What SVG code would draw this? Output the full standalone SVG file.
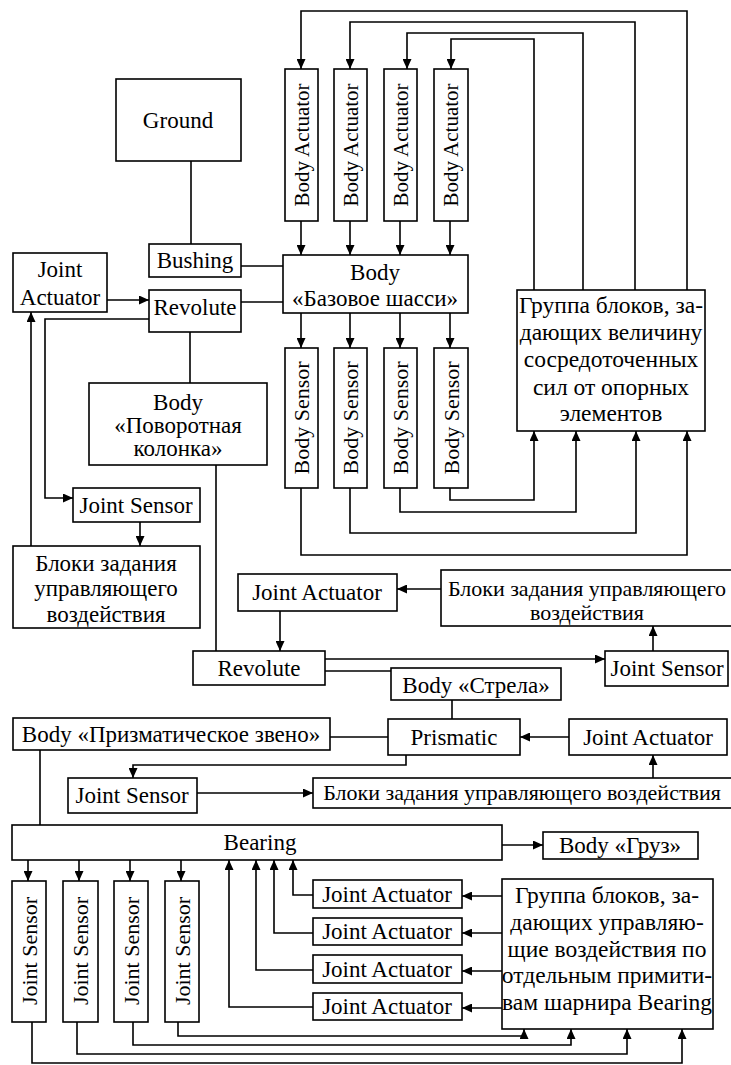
<svg xmlns="http://www.w3.org/2000/svg" width="731" height="1065" viewBox="0 0 731 1065">
<style>
.n{fill:#fff;stroke:#000;stroke-width:1.6}
.t{font-family:"Liberation Serif","Times New Roman",serif;font-size:23px;fill:#000;text-anchor:middle}
.g{font-size:23.5px}
.ra{font-size:21px}
.rs{font-size:22px}
.w{font-size:22px}
.c{fill:none;stroke:#000;stroke-width:1.6}
</style>
<defs>
<marker id="a" markerUnits="userSpaceOnUse" markerWidth="10" markerHeight="9" refX="10" refY="4.5" orient="auto"><path d="M0,0 L10,4.5 L0,9 z" fill="#000"/></marker>
</defs>
<rect width="731" height="1065" fill="#fff"/>
<g id="connectors">
<path class="c" d="M191,161 V244"/>
<path class="c" d="M241,266 H283"/>
<path class="c" d="M241,302 H283"/>
<path class="c" d="M107,300 H149" marker-end="url(#a)"/>
<path class="c" d="M149,319 H45 V498 H73" marker-end="url(#a)"/>
<path class="c" d="M190,332 V383"/>
<path class="c" d="M140,522 V546" marker-end="url(#a)"/>
<path class="c" d="M31,546 V312" marker-end="url(#a)"/>
<path class="c" d="M216,465 V651"/>
<path class="c" d="M687,290 V11 H301 V69" marker-end="url(#a)"/>
<path class="c" d="M635,290 V22 H350 V69" marker-end="url(#a)"/>
<path class="c" d="M583,290 V33 H407 V69" marker-end="url(#a)"/>
<path class="c" d="M534,290 V39 H451 V69" marker-end="url(#a)"/>
<path class="c" d="M301,221 V255" marker-end="url(#a)"/>
<path class="c" d="M350,221 V255" marker-end="url(#a)"/>
<path class="c" d="M400,221 V255" marker-end="url(#a)"/>
<path class="c" d="M450,221 V255" marker-end="url(#a)"/>
<path class="c" d="M301,313 V348" marker-end="url(#a)"/>
<path class="c" d="M350,313 V348" marker-end="url(#a)"/>
<path class="c" d="M400,313 V348" marker-end="url(#a)"/>
<path class="c" d="M450,313 V348" marker-end="url(#a)"/>
<path class="c" d="M450,488 V500 H534 V431" marker-end="url(#a)"/>
<path class="c" d="M400,488 V512 H576 V431" marker-end="url(#a)"/>
<path class="c" d="M350,488 V533 H636 V431" marker-end="url(#a)"/>
<path class="c" d="M301,488 V555 H687 V431" marker-end="url(#a)"/>
<path class="c" d="M441,589 H397" marker-end="url(#a)"/>
<path class="c" d="M280,611 V651" marker-end="url(#a)"/>
<path class="c" d="M325,659 H605" marker-end="url(#a)"/>
<path class="c" d="M325,671 H391"/>
<path class="c" d="M653,651 V626" marker-end="url(#a)"/>
<path class="c" d="M452,700 V719"/>
<path class="c" d="M569,737 H520" marker-end="url(#a)"/>
<path class="c" d="M388,737 H330"/>
<path class="c" d="M406,755 V765 H133 V778" marker-end="url(#a)"/>
<path class="c" d="M197,793 H313" marker-end="url(#a)"/>
<path class="c" d="M653,778 V755" marker-end="url(#a)"/>
<path class="c" d="M40,750 V825"/>
<path class="c" d="M502,845 H543" marker-end="url(#a)"/>
<path class="c" d="M28,860 V881" marker-end="url(#a)"/>
<path class="c" d="M79,860 V881" marker-end="url(#a)"/>
<path class="c" d="M130,860 V881" marker-end="url(#a)"/>
<path class="c" d="M181,860 V881" marker-end="url(#a)"/>
<path class="c" d="M502,896 H462" marker-end="url(#a)"/>
<path class="c" d="M502,933 H462" marker-end="url(#a)"/>
<path class="c" d="M502,971 H462" marker-end="url(#a)"/>
<path class="c" d="M502,1008 H462" marker-end="url(#a)"/>
<path class="c" d="M313,895 H293 V860" marker-end="url(#a)"/>
<path class="c" d="M313,933 H274 V860" marker-end="url(#a)"/>
<path class="c" d="M313,970 H256 V860" marker-end="url(#a)"/>
<path class="c" d="M313,1007 H229 V860" marker-end="url(#a)"/>
<path class="c" d="M178,1022 V1036 H524 V1029" marker-end="url(#a)"/>
<path class="c" d="M133,1022 V1045 H571 V1029" marker-end="url(#a)"/>
<path class="c" d="M77,1022 V1054 H627 V1029" marker-end="url(#a)"/>
<path class="c" d="M32,1022 V1063 H682 V1029" marker-end="url(#a)"/>
</g>
<g id="ground"><rect class="n" x="116" y="79" width="125" height="82"/><text class="t" x="178" y="128">Ground</text></g>
<g id="bushing"><rect class="n" x="149" y="244" width="92" height="33"/><text class="t" x="195" y="268">Bushing</text></g>
<g id="joint-actuator-1"><rect class="n" x="13" y="253" width="94" height="59"/><text class="t" x="60" y="277">Joint</text><text class="t" x="60" y="305">Actuator</text></g>
<g id="revolute-1"><rect class="n" x="149" y="290" width="92" height="42"/><text class="t" x="195" y="315">Revolute</text></g>
<g id="body-base"><rect class="n" x="283" y="255" width="185" height="58"/><text class="t" x="375" y="280">Body</text><text class="t" x="375" y="306">«Базовое шасси»</text></g>
<g id="body-actuator-1"><rect class="n" x="285" y="69" width="33" height="152"/><text class="t ra" transform="translate(301.5,145) rotate(-90)" y="7">Body Actuator</text></g>
<g id="body-actuator-2"><rect class="n" x="334" y="69" width="33" height="152"/><text class="t ra" transform="translate(350.5,145) rotate(-90)" y="7">Body Actuator</text></g>
<g id="body-actuator-3"><rect class="n" x="384" y="69" width="33" height="152"/><text class="t ra" transform="translate(400.5,145) rotate(-90)" y="7">Body Actuator</text></g>
<g id="body-actuator-4"><rect class="n" x="434" y="69" width="34" height="152"/><text class="t ra" transform="translate(451,145) rotate(-90)" y="7">Body Actuator</text></g>
<g id="body-sensor-1"><rect class="n" x="285" y="348" width="33" height="140"/><text class="t rs" transform="translate(301.5,418) rotate(-90)" y="7.5">Body Sensor</text></g>
<g id="body-sensor-2"><rect class="n" x="334" y="348" width="33" height="140"/><text class="t rs" transform="translate(350.5,418) rotate(-90)" y="7.5">Body Sensor</text></g>
<g id="body-sensor-3"><rect class="n" x="384" y="348" width="33" height="140"/><text class="t rs" transform="translate(400.5,418) rotate(-90)" y="7.5">Body Sensor</text></g>
<g id="body-sensor-4"><rect class="n" x="434" y="348" width="34" height="140"/><text class="t rs" transform="translate(451,418) rotate(-90)" y="7.5">Body Sensor</text></g>
<g id="group-forces"><rect class="n" x="517" y="290" width="188" height="141"/><text class="t g" x="611" y="313">Группа блоков, за-</text><text class="t g" x="611" y="340">дающих величину</text><text class="t g" x="611" y="367">сосредоточенных</text><text class="t g" x="611" y="395">сил от опорных</text><text class="t g" x="611" y="421">элементов</text></g>
<g id="body-column"><rect class="n" x="89" y="383" width="178" height="82"/><text class="t" x="178" y="410">Body</text><text class="t" x="178" y="433">«Поворотная</text><text class="t" x="178" y="456">колонка»</text></g>
<g id="joint-sensor-1"><rect class="n" x="73" y="488" width="127" height="34"/><text class="t" x="136" y="513">Joint Sensor</text></g>
<g id="control-1"><rect class="n" x="13" y="546" width="187" height="82"/><text class="t" x="106" y="571">Блоки задания</text><text class="t" x="106" y="596">управляющего</text><text class="t" x="106" y="622">воздействия</text></g>
<g id="joint-actuator-2"><rect class="n" x="238" y="574" width="159" height="37"/><text class="t" x="317" y="600">Joint Actuator</text></g>
<g id="control-2"><rect class="n" x="441" y="570" width="300" height="56"/><text class="t w" x="587" y="596">Блоки задания управляющего</text><text class="t w" x="587" y="620">воздействия</text></g>
<g id="revolute-2"><rect class="n" x="193" y="651" width="132" height="34"/><text class="t" x="259" y="676">Revolute</text></g>
<g id="joint-sensor-2"><rect class="n" x="605" y="651" width="123" height="35"/><text class="t" x="667" y="676">Joint Sensor</text></g>
<g id="body-boom"><rect class="n" x="391" y="668" width="170" height="32"/><text class="t" x="476" y="693">Body «Стрела»</text></g>
<g id="body-prismatic"><rect class="n" x="13" y="718" width="317" height="32"/><text class="t" x="171" y="742">Body «Призматическое звено»</text></g>
<g id="prismatic"><rect class="n" x="388" y="719" width="132" height="36"/><text class="t" x="454" y="745">Prismatic</text></g>
<g id="joint-actuator-3"><rect class="n" x="569" y="719" width="158" height="36"/><text class="t" x="648" y="745">Joint Actuator</text></g>
<g id="joint-sensor-3"><rect class="n" x="68" y="778" width="129" height="35"/><text class="t" x="132" y="803">Joint Sensor</text></g>
<g id="control-3"><rect class="n" x="313" y="778" width="430" height="30"/><text class="t w" x="522" y="800">Блоки задания управляющего воздействия</text></g>
<g id="bearing"><rect class="n" x="12" y="825" width="490" height="35"/><text class="t" x="260" y="850">Bearing</text></g>
<g id="body-load"><rect class="n" x="543" y="832" width="155" height="27"/><text class="t" x="620" y="853">Body «Груз»</text></g>
<g id="joint-sensor-b1"><rect class="n" x="12" y="881" width="34" height="141"/><text class="t rs" transform="translate(29,951) rotate(-90)" y="7.5">Joint Sensor</text></g>
<g id="joint-sensor-b2"><rect class="n" x="63" y="881" width="35" height="141"/><text class="t rs" transform="translate(80.5,951) rotate(-90)" y="7.5">Joint Sensor</text></g>
<g id="joint-sensor-b3"><rect class="n" x="114" y="881" width="34" height="141"/><text class="t rs" transform="translate(131,951) rotate(-90)" y="7.5">Joint Sensor</text></g>
<g id="joint-sensor-b4"><rect class="n" x="165" y="881" width="34" height="141"/><text class="t rs" transform="translate(182,951) rotate(-90)" y="7.5">Joint Sensor</text></g>
<g id="joint-actuator-b1"><rect class="n" x="313" y="880" width="149" height="28"/><text class="t" x="387" y="902">Joint Actuator</text></g>
<g id="joint-actuator-b2"><rect class="n" x="313" y="918" width="149" height="27"/><text class="t" x="387" y="939">Joint Actuator</text></g>
<g id="joint-actuator-b3"><rect class="n" x="313" y="955" width="149" height="28"/><text class="t" x="387" y="977">Joint Actuator</text></g>
<g id="joint-actuator-b4"><rect class="n" x="313" y="993" width="149" height="27"/><text class="t" x="387" y="1014">Joint Actuator</text></g>
<g id="group-bearing"><rect class="n" x="502" y="879" width="211" height="150"/><text class="t g" x="607" y="903">Группа блоков, за-</text><text class="t g" x="607" y="930">дающих управляю-</text><text class="t g" x="607" y="957">щие воздействия по</text><text class="t g" x="607" y="983">отдельным примити-</text><text class="t g" x="607" y="1010">вам шарнира Bearing</text></g>
</svg>
